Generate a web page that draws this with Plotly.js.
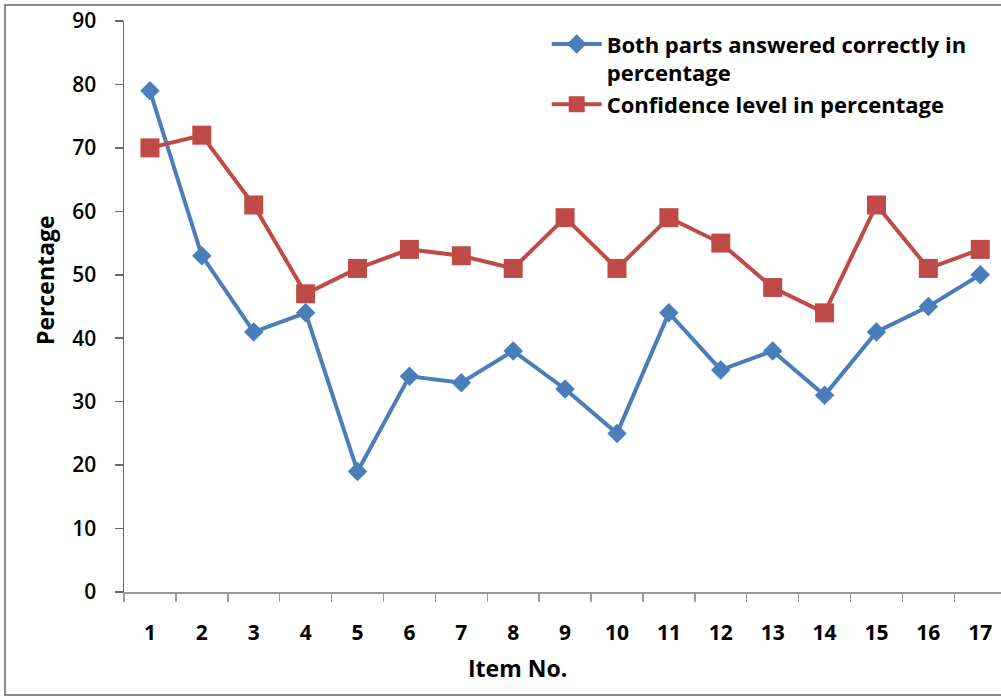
<!DOCTYPE html>
<html>
<head>
<meta charset="utf-8">
<script src="https://cdn.plot.ly/plotly-3.0.1.min.js"></script>
<style>html,body{margin:0;padding:0;background:#fff;}#chart{width:1001px;height:697px;}</style>
</head>
<body>
<div id="chart"></div>
<script>
var items = ["1","2","3","4","5","6","7","8","9","10","11","12","13","14","15","16","17"];
var bothCorrect = [79,53,41,44,19,34,33,38,32,25,44,35,38,31,41,45,50];
var confidence = [70,72,61,47,51,54,53,51,59,51,59,55,48,44,61,51,54];
var yTicks = [0,10,20,30,40,50,60,70,80,90];
var nameBoth = "Both parts answered correctly in<br>percentage";
var nameConf = "Confidence level in percentage";
var xTitle = "Item No.";
var yTitle = "Percentage";

var FONT = "'Open Sans', Lato, sans-serif";

var traces = [
  {x: items, y: bothCorrect, name: nameBoth, type: "scatter", mode: "lines+markers",
   line: {color: "#4A7EBB", width: 4}, marker: {symbol: "diamond", size: 15, color: "#4A7EBB"}},
  {x: items, y: confidence, name: nameConf, type: "scatter", mode: "lines+markers",
   line: {color: "#BE4B48", width: 4}, marker: {symbol: "square", size: 19, color: "#BE4B48"}}
];

var layout = {
  width: 1001, height: 697,
  margin: {l: 124, r: 0, t: 21, b: 105},
  paper_bgcolor: "#fff", plot_bgcolor: "#fff",
  font: {family: FONT, color: "#000", size: 21},
  showlegend: true,
  legend: {x: 0.482, y: 0.996, xanchor: "left", yanchor: "top", valign: "top",
           font: {family: FONT, size: 22, weight: "bold", color: "#000"},
           bgcolor: "rgba(0,0,0,0)", tracegroupgap: 0, itemwidth: 50},
  xaxis: {type: "category", range: [-0.5, 16.4], tickson: "boundaries",
          showline: true, linecolor: "#9a9a9a", linewidth: 1.5,
          ticks: "outside", ticklen: 8, tickcolor: "#9a9a9a", tickwidth: 1.5,
          showgrid: false, zeroline: false, ticklabelstandoff: 21,
          tickfont: {family: FONT, size: 21, weight: "bold", color: "#000"}},
  yaxis: {range: [0, 90], tickvals: yTicks, ticktext: yTicks.map(String),
          showline: true, linecolor: "#6a6a6a", linewidth: 1.5,
          ticks: "outside", ticklen: 8, tickcolor: "#6a6a6a", tickwidth: 1.5,
          showgrid: false, zeroline: false, ticklabelstandoff: 14,
          tickfont: {family: FONT, size: 21, weight: 600, color: "#000"}},
  annotations: [
    {text: xTitle, xref: "paper", yref: "paper", x: (517-124)/877, y: (592-668)/571,
     xanchor: "center", yanchor: "middle", showarrow: false,
     font: {family: FONT, size: 23, weight: "bold", color: "#000"}},
    {text: yTitle, xref: "paper", yref: "paper", x: (45-124)/877, y: (592-281)/571,
     xanchor: "center", yanchor: "middle", showarrow: false, textangle: -90,
     font: {family: FONT, size: 23, weight: "bold", color: "#000"}}
  ],
  shapes: [
    {type: "rect", xref: "paper", yref: "paper",
     x0: (5-124)/877, x1: 1.02, y0: (592-695)/571, y1: (592-5)/571,
     line: {color: "#8a8a8a", width: 2}, fillcolor: "rgba(0,0,0,0)", layer: "below"}
  ]
};

Plotly.newPlot("chart", traces, layout, {displayModeBar: false, staticPlot: true});
</script>
</body>
</html>
